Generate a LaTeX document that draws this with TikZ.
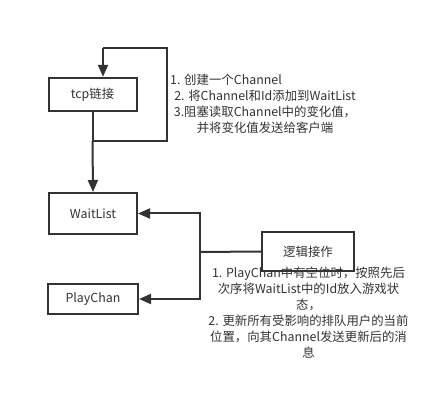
\documentclass[tikz,border=0pt]{standalone}
\usepackage{fontspec}
\setmainfont{Noto Sans CJK SC}
\usepackage{tikz}
\usetikzlibrary{arrows.meta}
\usepackage{xcolor}
\definecolor{ColLine}{RGB}{51,51,51}
\definecolor{ColText}{RGB}{51,51,51}
\tikzstyle{BoxNode}=[rectangle,draw=ColLine,line width=2pt,fill=white,text=ColText,
inner sep=0pt,font=\fontsize{12.4}{16}\selectfont]
\tikzstyle{NoteNode}=[align=center,text=ColText,inner sep=0pt,font=\fontsize{12.4}{16}\selectfont]
\tikzstyle{EdgeLine}=[ColLine,line width=2pt]
\tikzstyle{EdgeArrow}=[ColLine,line width=2pt,-{Triangle[length=12pt,width=10pt]}]

\begin{document}
\begin{tikzpicture}[x=1pt,y=-1pt]
        \useasboundingbox[fill=white](0,0)rectangle(447,411);
        \node[BoxNode,minimum width=88pt,minimum height=33pt](tcp)at(92.5,94.3){tcp链接};
        \node[BoxNode,minimum width=88pt,minimum height=41pt](wait)at(93,213.5){WaitList};
        \node[BoxNode,minimum width=90pt,minimum height=30pt](play)at(93,299){PlayChan};
        \coordinate(j1)at(92.5,141);
        \coordinate(r1)at(167,141);
        \coordinate(r2)at(167,48);
        \coordinate(r3)at(103,48);
        \coordinate(m1)at(200,252);
        \draw[EdgeLine](tcp.south)--(j1)--(r1)--(r2)--(r3);
        \draw[EdgeArrow](r3)--(r3|-tcp.north);
        \draw[EdgeArrow](j1)--(wait.north);
        \draw[EdgeArrow](m1)|-(wait.east);
        \draw[EdgeArrow](m1)|-(play.east);
        \node[BoxNode,minimum width=92pt,minimum height=39pt](logic)at(308,251.5){逻辑接作};
        \draw[EdgeLine](logic.west)--(m1);
        \node[NoteNode](note1)at(265,104){1. 创建一个Channel\hspace*{78pt}\\2. 将Channel和Id添加到WaitList\\3.阻塞读取Channel中的变化值，\\并将变化值发送给客户端};
        \node[NoteNode](note2)at(308.5,312.5){1. PlayChan中有空位时，按照先后\\次序将WaitList中的Id放入游戏状\\态，\\2. 更新所有受影响的排队用户的当前\\位置，向其Channel发送更新后的消\\息};
    \end{tikzpicture}
\end{document}
